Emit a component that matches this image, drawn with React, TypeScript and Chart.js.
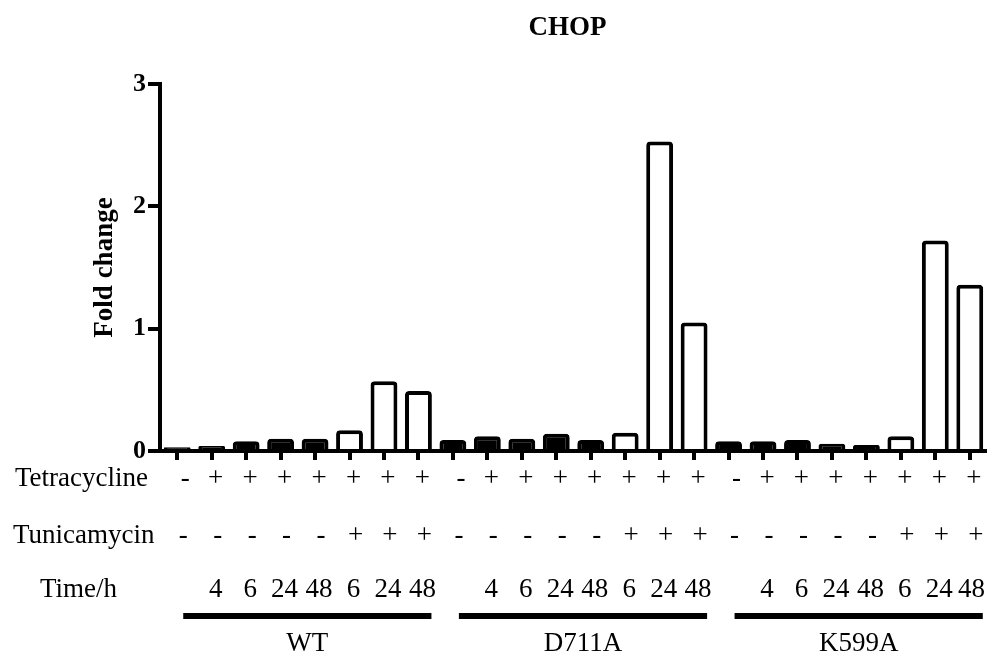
import React, { useEffect, useRef } from 'react';
import { Chart, registerables } from 'chart.js';

Chart.register(...registerables);

const groups = ['WT', 'D711A', 'K599A'];
const tetracycline = ['-', '+', '+', '+', '+', '+', '+', '+'];
const tunicamycin = ['-', '-', '-', '-', '-', '+', '+', '+'];
const timeH = ['', '4', '6', '24', '48', '6', '24', '48'];
const foldChangeWT = [0.03, 0.04, 0.08, 0.1, 0.1, 0.17, 0.57, 0.49];
const foldChangeD711A = [0.09, 0.12, 0.1, 0.14, 0.09, 0.15, 2.53, 1.05];
const foldChangeK599A = [0.08, 0.08, 0.09, 0.06, 0.05, 0.12, 1.72, 1.36];
const yMin = 0;
const yMax = 3;
const yStep = 1;
const chartTitle = 'CHOP';
const yTitle = 'Fold change';
const rowLabels = ['Tetracycline', 'Tunicamycin', 'Time/h'];

const SERIF = '"Liberation Serif", "Times New Roman", serif';

const seriesByGroup = [foldChangeWT, foldChangeD711A, foldChangeK599A];
const categories: string[] = [];
const values: number[] = [];
const fills: string[] = [];
groups.forEach((g, gi) => {
  for (let k = 0; k < tetracycline.length; k++) {
    categories.push(`${g} Tet${tetracycline[k]} Tun${tunicamycin[k]} ${timeH[k]}`);
    values.push(seriesByGroup[gi][k]);
    fills.push(tunicamycin[k] === '+' ? '#ffffff' : '#000000');
  }
});

const annotPlugin = {
  id: 'annot',
  afterDraw(chart: any) {
    const ctx = chart.ctx as CanvasRenderingContext2D;
    const xs = chart.scales.x;
    const area = chart.chartArea;
    ctx.save();
    ctx.fillStyle = '#000';
    ctx.textBaseline = 'alphabetic';
    ctx.textAlign = 'center';
    ctx.font = `bold 27px ${SERIF}`;
    ctx.fillText(chartTitle, (area.left + area.right) / 2 - 6, 35);

    ctx.font = `27px ${SERIF}`;
    ctx.textAlign = 'left';
    ctx.fillText(rowLabels[0], 15, 486);
    ctx.fillText(rowLabels[1], 13, 543);
    ctx.fillText(rowLabels[2], 40, 597);

    ctx.textAlign = 'center';
    const n = tetracycline.length;
    groups.forEach((g, gi) => {
      for (let k = 0; k < n; k++) {
        const cx = xs.getPixelForValue(gi * n + k);
        ctx.fillText(tetracycline[k], cx + (tetracycline[k] === '-' ? 8 : 4), 486);
        ctx.fillText(tunicamycin[k], cx + 6, 543);
        if (timeH[k]) {
          const w = ctx.measureText(timeH[k]).width;
          const tx = Math.min(cx + 4, chart.width - w / 2 - 2);
          ctx.fillText(timeH[k], tx, 597);
        }
      }
      const x0 = xs.getPixelForValue(gi * n) + 6;
      const x1 = Math.min(xs.getPixelForValue(gi * n + n - 1) + 13, chart.width);
      ctx.fillRect(x0, 613, x1 - x0, 6);
      ctx.fillText(g, (x0 + x1) / 2, 651);
    });
    ctx.restore();
  },
};

export default function App() {
  const ref = useRef<HTMLCanvasElement | null>(null);
  useEffect(() => {
    if (!ref.current) return;
    const chart = new Chart(ref.current, {
      type: 'bar',
      data: {
        labels: categories,
        datasets: [
          {
            data: values,
            backgroundColor: fills,
            borderColor: '#000000',
            borderWidth: 4,
            borderRadius: 4,
            barPercentage: 0.78,
            categoryPercentage: 1,
          },
        ],
      },
      options: {
        animation: false,
        responsive: false,
        devicePixelRatio: 1,
        layout: { padding: { left: 80, top: 84, right: 0, bottom: 193 } },
        plugins: {
          legend: { display: false },
          title: { display: false },
          tooltip: { enabled: false },
        },
        scales: {
          x: {
            offset: true,
            ticks: { display: false },
            grid: {
              display: true,
              drawOnChartArea: false,
              drawTicks: true,
              tickLength: 9,
              lineWidth: 4,
              color: '#000',
              offset: false,
            },
            border: { display: true, width: 4, color: '#000' },
            afterFit: (axis: any) => {
              axis.height = 9;
            },
          },
          y: {
            min: yMin,
            max: yMax,
            ticks: {
              stepSize: yStep,
              color: '#000',
              padding: 2,
              font: { family: SERIF, size: 26, weight: 'bold' },
            },
            grid: {
              display: true,
              drawOnChartArea: false,
              drawTicks: true,
              tickLength: 12,
              lineWidth: 4,
              color: '#000',
            },
            border: { display: true, width: 4, color: '#000' },
            title: {
              display: true,
              text: yTitle,
              color: '#000',
              font: { family: SERIF, size: 27, weight: 'bold' },
              padding: { top: 9, bottom: 0 },
            },
            afterFit: (axis: any) => {
              axis.width = 80;
            },
          },
        },
      },
      plugins: [annotPlugin],
    });
    return () => chart.destroy();
  }, []);
  return (
    <div style={{ position: 'fixed', left: 0, top: 0, width: 987, height: 653, background: '#fff' }}>
      <canvas ref={ref} width={987} height={653} style={{ width: 987, height: 653, display: 'block' }} />
    </div>
  );
}
